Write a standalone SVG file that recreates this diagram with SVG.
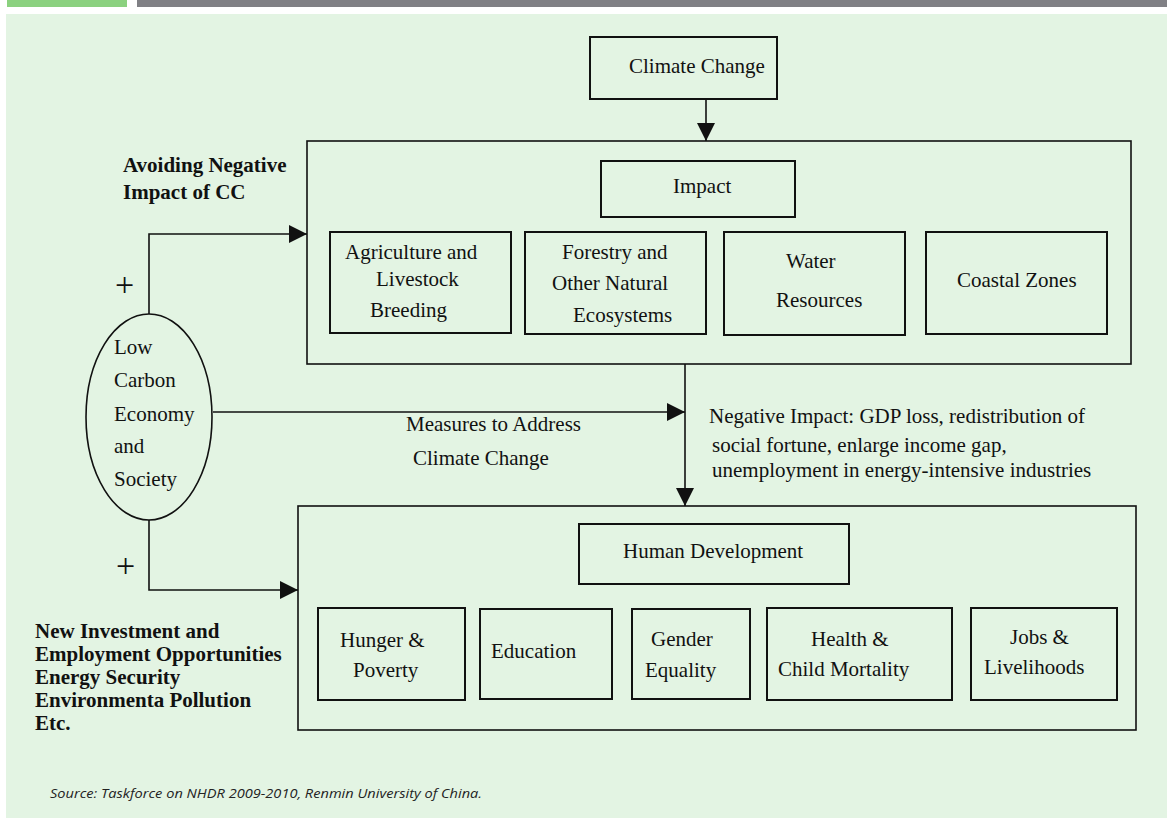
<svg xmlns="http://www.w3.org/2000/svg" width="1167" height="818" viewBox="0 0 1167 818">
<defs>
<style>
.t{font-family:"Liberation Serif","Times New Roman",serif;font-size:21px;fill:#111}
.b{font-weight:bold}
.plus{font-family:"Liberation Serif","Times New Roman",serif;font-size:34px;fill:#111}
.bx{fill:none;stroke:#111;stroke-width:2}
.big{fill:none;stroke:#111;stroke-width:1.6}
.ln{fill:none;stroke:#111;stroke-width:1.6}
.src{font-family:"Open Sans","Liberation Sans",sans-serif;font-style:italic;font-size:13.5px;fill:#222}
</style>
<marker id="ah" viewBox="0 0 18 18" refX="18" refY="9" markerWidth="18" markerHeight="18" orient="auto" markerUnits="userSpaceOnUse">
<path d="M0,0 L18,9 L0,18 z" fill="#111"/>
</marker>
</defs>
<rect x="0" y="0" width="1167" height="818" fill="#ffffff"/>
<rect x="7" y="0" width="120" height="7" fill="#8bd17f"/>
<rect x="137" y="0" width="1030" height="7" fill="#808085"/>
<rect x="6" y="14" width="1161" height="804" fill="#e3f4e3"/>

<g id="connectors">
<path class="ln" d="M706,99 V141" marker-end="url(#ah)"/>
<path class="ln" d="M149,314 V234 H307" marker-end="url(#ah)"/>
<path class="ln" d="M213,412 H685" marker-end="url(#ah)"/>
<path class="ln" d="M685,364 V506" marker-end="url(#ah)"/>
<path class="ln" d="M149,520 V590 H298" marker-end="url(#ah)"/>
</g>

<g id="climate-change">
<rect class="bx" x="590" y="37" width="187" height="62"/>
<text class="t" x="629" y="73">Climate Change</text>
</g>

<g id="impact-group">
<rect class="big" x="307" y="141" width="824" height="223"/>
</g>
<g id="impact">
<rect class="bx" x="601" y="161" width="194" height="56"/>
<text class="t" x="673" y="193">Impact</text>
</g>
<g id="agriculture">
<rect class="bx" x="330" y="232" width="181" height="101"/>
<text class="t" x="345" y="259">Agriculture and</text>
<text class="t" x="376" y="286">Livestock</text>
<text class="t" x="370" y="317">Breeding</text>
</g>
<g id="forestry">
<rect class="bx" x="525" y="232" width="181" height="102"/>
<text class="t" x="562" y="259">Forestry and</text>
<text class="t" x="552" y="290">Other Natural</text>
<text class="t" x="573" y="322">Ecosystems</text>
</g>
<g id="water">
<rect class="bx" x="724" y="232" width="181" height="103"/>
<text class="t" x="786" y="268">Water</text>
<text class="t" x="776" y="307">Resources</text>
</g>
<g id="coastal">
<rect class="bx" x="926" y="232" width="181" height="102"/>
<text class="t" x="957" y="287">Coastal Zones</text>
</g>

<g id="low-carbon">
<ellipse class="ln" cx="149" cy="417" rx="63" ry="103"/>
<text class="t" x="114" y="354">Low</text>
<text class="t" x="114" y="387">Carbon</text>
<text class="t" x="114" y="421">Economy</text>
<text class="t" x="114" y="453">and</text>
<text class="t" x="114" y="486">Society</text>
</g>

<g id="labels">
<text class="t b" x="123" y="172">Avoiding Negative</text>
<text class="t b" x="123" y="199">Impact of CC</text>
<text class="plus" x="115" y="296">+</text>
<text class="plus" x="116" y="577">+</text>
<text class="t" x="406" y="431">Measures to Address</text>
<text class="t" x="413" y="465">Climate Change</text>
<text class="t" x="709" y="423">Negative Impact: GDP loss, redistribution of</text>
<text class="t" x="712" y="452">social fortune, enlarge income gap,</text>
<text class="t" x="712" y="477">unemployment in energy-intensive industries</text>
<text class="t b" x="35" y="638">New Investment and</text>
<text class="t b" x="35" y="661">Employment Opportunities</text>
<text class="t b" x="35" y="684">Energy Security</text>
<text class="t b" x="35" y="707">Environmenta Pollution</text>
<text class="t b" x="35" y="730">Etc.</text>
</g>

<g id="human-development-group">
<rect class="big" x="298" y="506" width="838" height="224"/>
</g>
<g id="human-development">
<rect class="bx" x="579" y="524" width="270" height="60"/>
<text class="t" x="623" y="558">Human Development</text>
</g>
<g id="hunger">
<rect class="bx" x="318" y="608" width="147" height="92"/>
<text class="t" x="340" y="647">Hunger &amp;</text>
<text class="t" x="353" y="677">Poverty</text>
</g>
<g id="education">
<rect class="bx" x="480" y="609" width="132" height="90"/>
<text class="t" x="491" y="658">Education</text>
</g>
<g id="gender">
<rect class="bx" x="632" y="609" width="118" height="90"/>
<text class="t" x="651" y="646">Gender</text>
<text class="t" x="645" y="677">Equality</text>
</g>
<g id="health">
<rect class="bx" x="767" y="608" width="185" height="92"/>
<text class="t" x="811" y="646">Health &amp;</text>
<text class="t" x="778" y="676">Child Mortality</text>
</g>
<g id="jobs">
<rect class="bx" x="971" y="608" width="146" height="92"/>
<text class="t" x="1010" y="644">Jobs &amp;</text>
<text class="t" x="984" y="674">Livelihoods</text>
</g>

<text class="src" x="50" y="798" textLength="432" lengthAdjust="spacingAndGlyphs">Source: Taskforce on NHDR 2009-2010, Renmin University of China.</text>
</svg>
